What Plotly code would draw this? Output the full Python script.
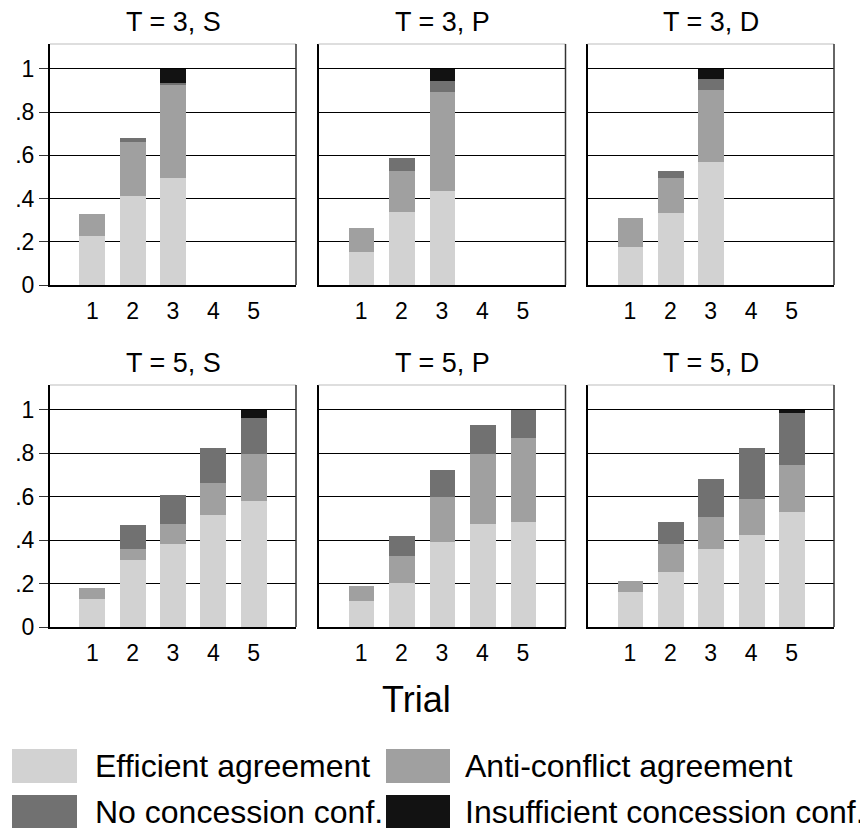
import plotly.graph_objects as go

# page body has an 8px default margin: work in screen pixels, shift by OFF
OFF = 8
W, H = 868 - OFF, 832 - OFF

trials = [1, 2, 3, 4, 5]
panel_titles = ["T = 3, S", "T = 3, P", "T = 3, D", "T = 5, S", "T = 5, P", "T = 5, D"]
series_names = ["Efficient agreement", "Anti-conflict agreement",
                "No concession conf.", "Insufficient concession conf."]
series_colors = ["#d2d2d2", "#a0a0a0", "#717171", "#121212"]

# segment heights per panel, trials 1..n
efficient = [
    [0.226, 0.414, 0.497],
    [0.154, 0.340, 0.434],
    [0.174, 0.331, 0.569],
    [0.130, 0.307, 0.381, 0.517, 0.579],
    [0.120, 0.204, 0.390, 0.475, 0.485],
    [0.162, 0.255, 0.360, 0.424, 0.528],
]
anti_conflict = [
    [0.102, 0.249, 0.429],
    [0.112, 0.188, 0.458],
    [0.134, 0.166, 0.334],
    [0.051, 0.053, 0.094, 0.145, 0.220],
    [0.070, 0.125, 0.210, 0.324, 0.385],
    [0.049, 0.126, 0.148, 0.167, 0.219],
]
no_concession = [
    [0.0, 0.019, 0.008],
    [0.0, 0.061, 0.051],
    [0.0, 0.029, 0.051],
    [0.0, 0.112, 0.133, 0.165, 0.166],
    [0.0, 0.092, 0.124, 0.132, 0.130],
    [0.0, 0.102, 0.174, 0.236, 0.241],
]
insufficient = [
    [0.0, 0.0, 0.066],
    [0.0, 0.0, 0.057],
    [0.0, 0.0, 0.046],
    [0.0, 0.0, 0.0, 0.0, 0.035],
    [0.0, 0.0, 0.0, 0.0, 0.0],
    [0.0, 0.0, 0.0, 0.0, 0.012],
]

y_tickvals = [0, 0.2, 0.4, 0.6, 0.8, 1]
y_ticktext = ["0", ".2", ".4", ".6", ".8", "1"]

FONT = "Liberation Sans, Arial, Helvetica, sans-serif"


def px_x(x):
    return (x - OFF) / W


def px_y(y):
    return 1 - (y - OFF) / H


# panel pixel geometry (screen coordinates)
col_px = [(50, 296), (318.5, 565.5), (587.5, 834)]
row_px = [(44, 285), (385, 627)]

fig = go.Figure()
layout = {}
shapes = []
annotations = []

all_series = [efficient, anti_conflict, no_concession, insufficient]

for p in range(6):
    r, c = divmod(p, 3)
    idx = p + 1
    xs = "" if idx == 1 else str(idx)
    xa, ya = "x" + xs, "y" + xs
    n = len(efficient[p])
    for s, data in enumerate(all_series):
        fig.add_trace(go.Bar(
            x=trials[:n], y=data[p], xaxis=xa, yaxis=ya,
            marker=dict(color=series_colors[s], line=dict(width=0)),
            width=0.64, name=series_names[s], showlegend=False,
        ))
    x0, x1 = col_px[c]
    y0, y1 = row_px[r]
    layout["xaxis" + xs] = dict(
        domain=[px_x(x0), px_x(x1)], anchor=ya, range=[-0.05, 6.05],
        tickvals=trials, ticktext=[str(t) for t in trials],
        ticks="outside", ticklen=4, tickcolor="rgba(0,0,0,0)",
        showgrid=False, zeroline=False, showline=True,
        linecolor="black", linewidth=2, automargin=False,
        tickfont=dict(size=23, color="black", family=FONT),
    )
    layout["yaxis" + xs] = dict(
        domain=[px_y(y1), px_y(y0)], anchor=xa, range=[0, 1.115],
        tickvals=y_tickvals, ticktext=y_ticktext,
        showticklabels=(c == 0),
        ticks="outside" if c == 0 else "", ticklen=9, tickcolor="#333",
        showgrid=True, gridcolor="black", gridwidth=1, zeroline=False,
        showline=True, linecolor="black", linewidth=2, automargin=False,
        tickfont=dict(size=23, color="black", family=FONT),
    )
    shapes.append(dict(type="line", xref=xa + " domain", yref=ya + " domain",
                       x0=0, x1=1, y0=1, y1=1, line=dict(color="#bdbdbd", width=1)))
    shapes.append(dict(type="line", xref=xa + " domain", yref=ya + " domain",
                       x0=1, x1=1, y0=0, y1=1, line=dict(color="#333", width=1.5)))
    title_y = 22 if r == 0 else 363
    annotations.append(dict(text=panel_titles[p], xref="paper", yref="paper",
                            x=px_x((x0 + x1) / 2), y=px_y(title_y),
                            xanchor="center", yanchor="middle", showarrow=False,
                            font=dict(size=27, color="black", family=FONT)))

annotations.append(dict(text="Trial", xref="paper", yref="paper",
                        x=px_x(416), y=px_y(699), xanchor="center", yanchor="middle",
                        showarrow=False, font=dict(size=36, color="black", family=FONT)))

# manual legend (two columns, two rows)
leg_rows = [(749, 783), (795, 828)]
leg_cols = [(12, 77, 93), (386, 450, 463)]
for s, name in enumerate(series_names):
    r, c = divmod(s, 2)
    sy0, sy1 = leg_rows[r]
    sx0, sx1, tx = leg_cols[c]
    shapes.append(dict(type="rect", xref="paper", yref="paper",
                       x0=px_x(sx0), x1=px_x(sx1), y0=px_y(sy1), y1=px_y(sy0),
                       fillcolor=series_colors[s], line=dict(width=0)))
    annotations.append(dict(text=name, xref="paper", yref="paper",
                            x=px_x(tx), y=px_y((sy0 + sy1) / 2),
                            xanchor="left", yanchor="middle", showarrow=False,
                            font=dict(size=32, color="black", family=FONT)))

fig.update_layout(
    **layout,
    barmode="stack", bargap=0,
    width=W, height=H,
    margin=dict(l=0, r=0, t=0, b=0, autoexpand=False),
    paper_bgcolor="white", plot_bgcolor="white",
    shapes=shapes, annotations=annotations,
    font=dict(family=FONT, color="black"),
)

fig.write_html("out.html")
